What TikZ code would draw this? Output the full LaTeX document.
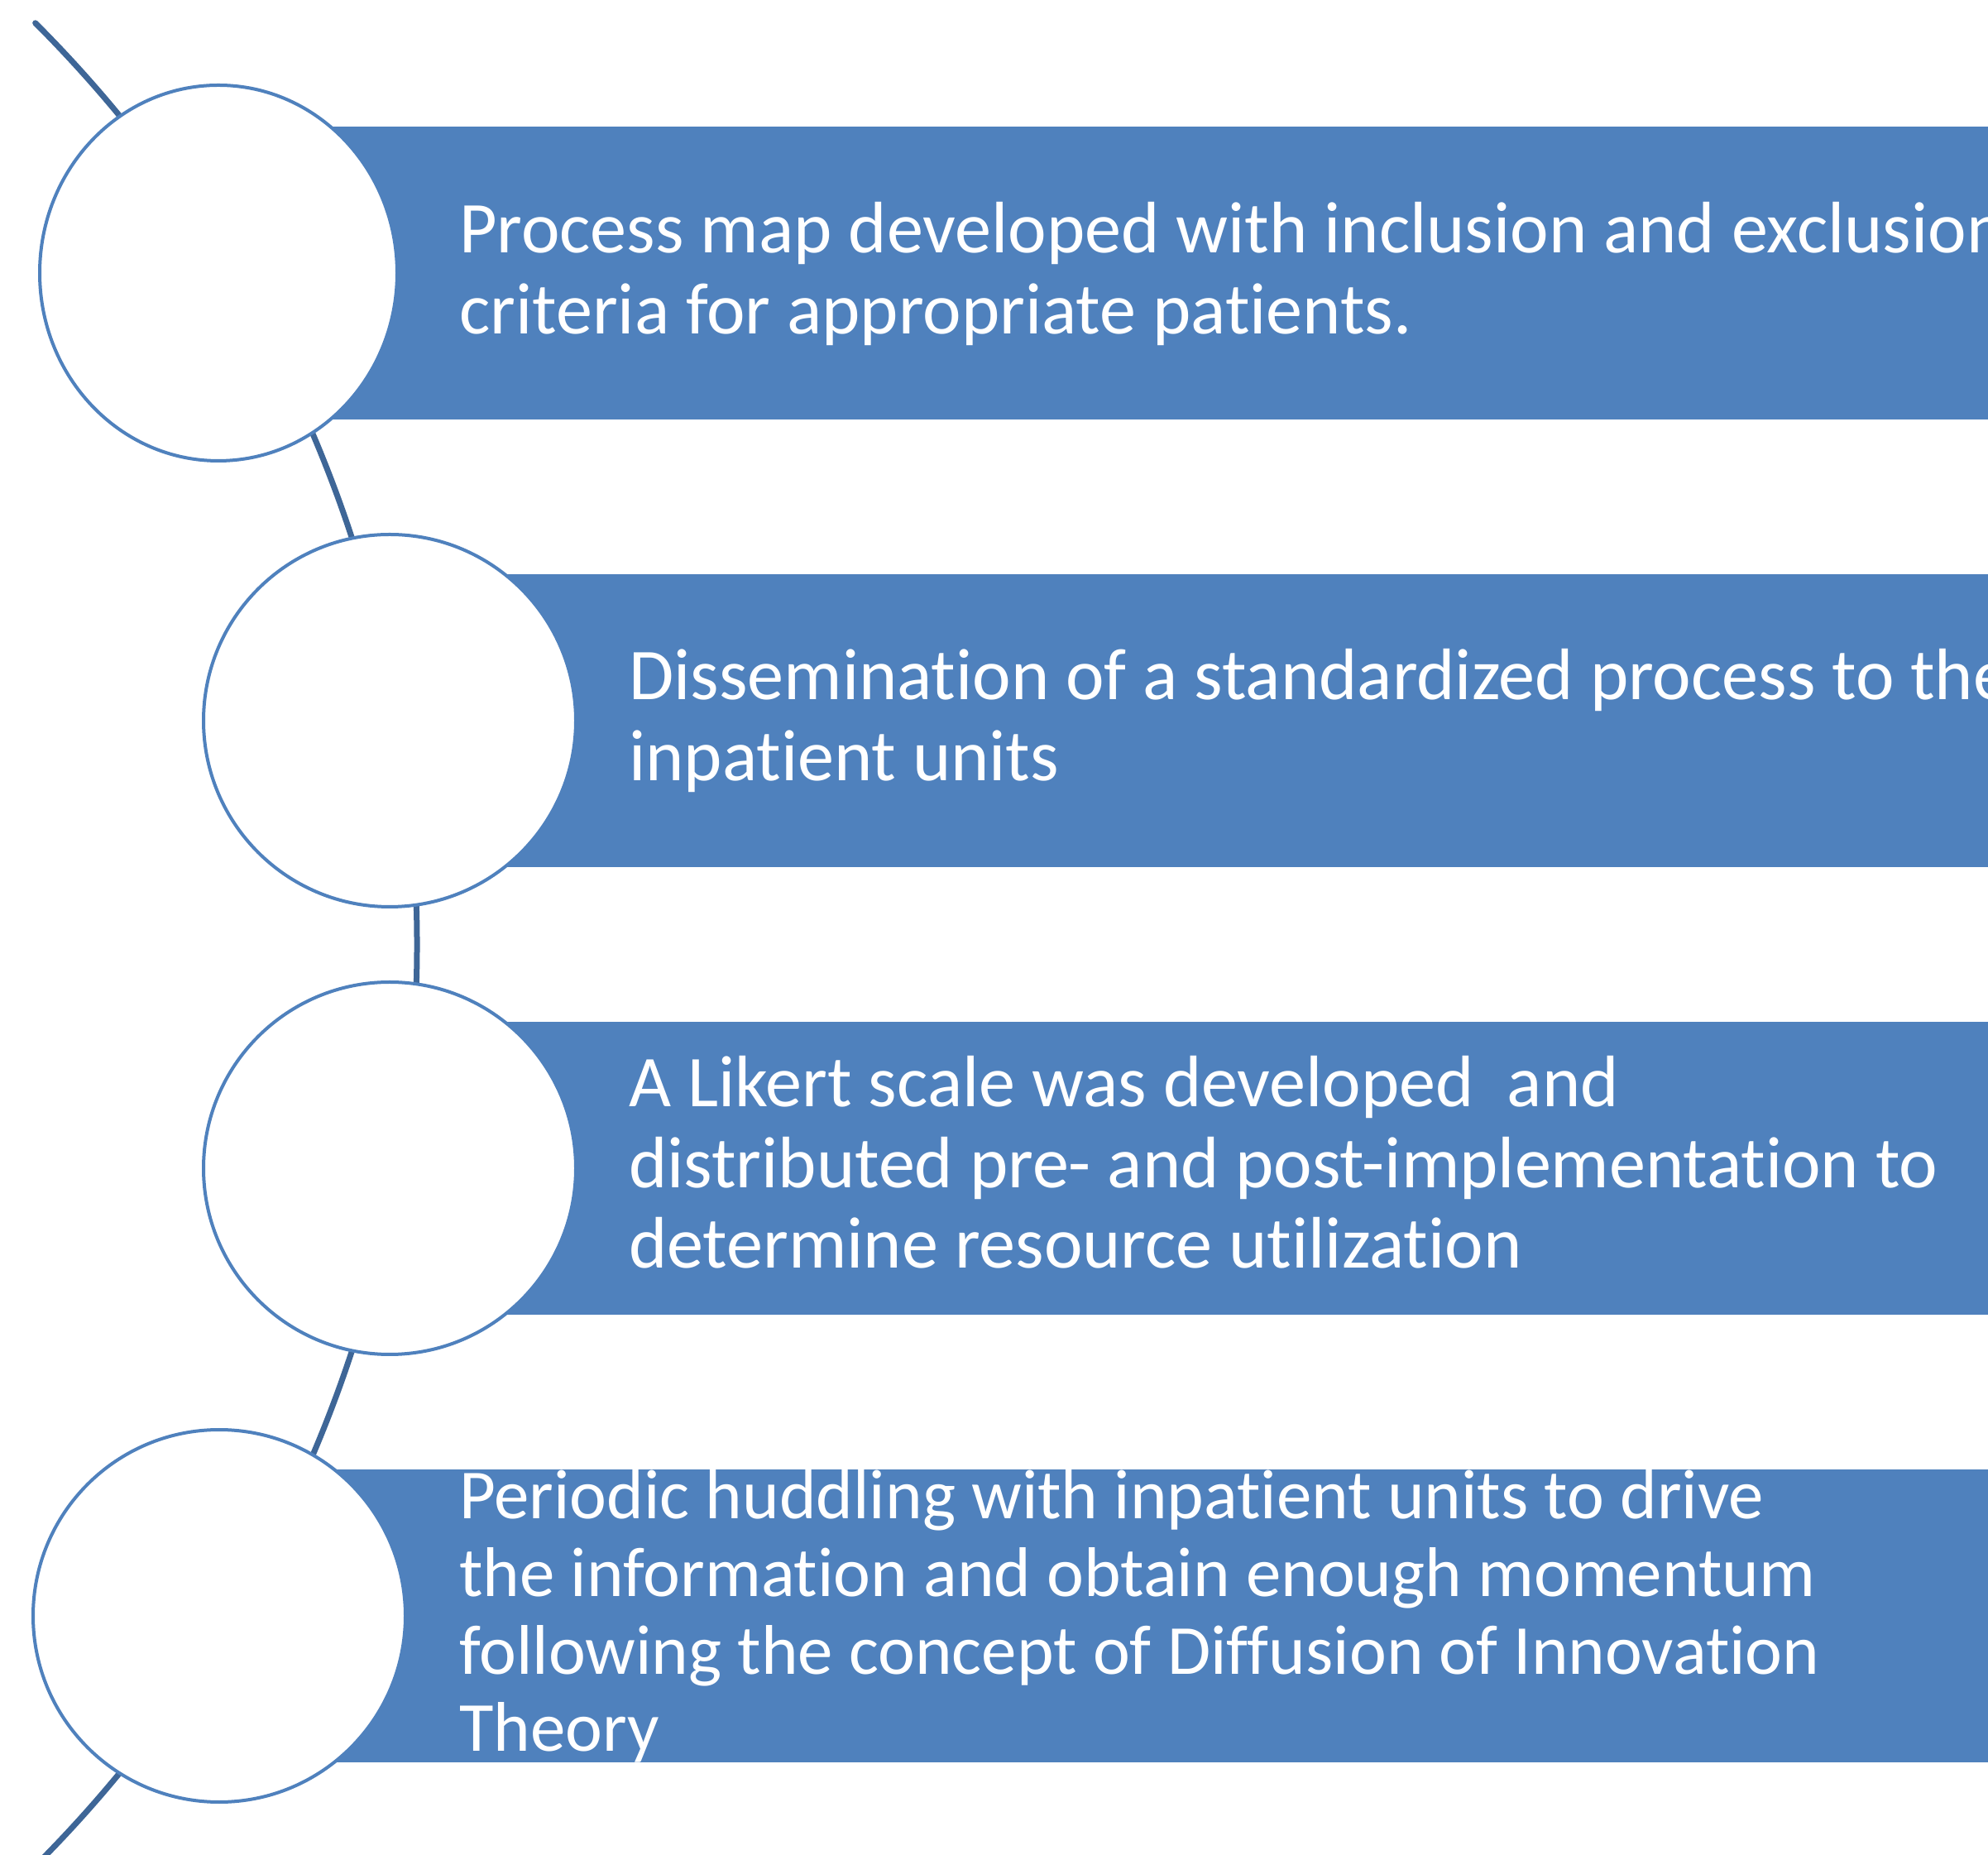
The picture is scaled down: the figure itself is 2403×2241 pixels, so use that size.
\documentclass[tikz,border=0pt]{standalone}
\usepackage{fontspec}
\setmainfont{Carlito}[Ligatures=NoCommon]
\usetikzlibrary{shapes.geometric}
\definecolor{barblue}{HTML}{4F81BD}
\definecolor{arcblue}{HTML}{3E6697}
\tikzset{
  bar/.style={fill=barblue, draw=none, rectangle, anchor=north west,
    minimum width=2250, minimum height=354, inner sep=0},
  ring/.style={circle, draw=barblue, line width=4pt, fill=white,
    minimum size=450, inner sep=0},
  ringoval/.style={ellipse, draw=barblue, line width=4pt, fill=white,
    minimum width=432, minimum height=454, inner sep=0},
  spine/.style={draw=arcblue, line width=7pt, line cap=round},
  lbl/.style={anchor=base west, inner sep=0, text=white,
    font=\fontsize{88.2}{97.5}\selectfont},
  lblsmall/.style={lbl, font=\fontsize{85}{93.6}\selectfont}
}
\begin{document}
\begin{tikzpicture}[x=1pt, y=1pt]
  \useasboundingbox (0,0) rectangle (2403,2241);
  \clip (0,0) rectangle (2403,2241);
  \fill[white] (0,0) rectangle (2403,2241);

  % horizontal bars
  \node[bar] (b1) at (264,2088) {};
  \node[bar] (b2) at (471,1547) {};
  \node[bar] (b3) at (471,1006) {};
  \node[bar] (b4) at (265,465) {};

  % curved spine behind the circles
  \coordinate (hub) at (-1071,1099.5);
  \draw[spine] ([shift={(45:1575)}]hub) arc[start angle=45, end angle=-52, radius=1575];

  % circles
  \node[ringoval] (c1) at (264,1911) {};
  \node[ring] (c2) at (471,1370) {};
  \node[ring] (c3) at (471,829) {};
  \node[ring] (c4) at (265,288) {};

  % texts
  \node[lbl] (t1) at (555,1935) {\parbox[t]{2400pt}{\raggedright
    Process map developed with inclusion and exclusion\\
    criteria for appropriate patients.}};
  \node[lbl] (t2) at (760,1395) {\parbox[t]{2400pt}{\raggedright
    Dissemination of a standardized process to the\\
    inpatient units}};
  \node[lbl] (t3) at (760,903) {\parbox[t]{2400pt}{\raggedright
    A Likert scale was developed\ \ and\\
    distributed pre- and post-implementation to\\
    determine resource utilization}};
  \node[lblsmall] (t4) at (555,405) {\parbox[t]{2400pt}{\raggedright
    Periodic huddling with inpatient units to drive\\
    the information and obtain enough momentum\\
    following the concept of Diffusion of Innovation\\
    Theory}};
\end{tikzpicture}
\end{document}
